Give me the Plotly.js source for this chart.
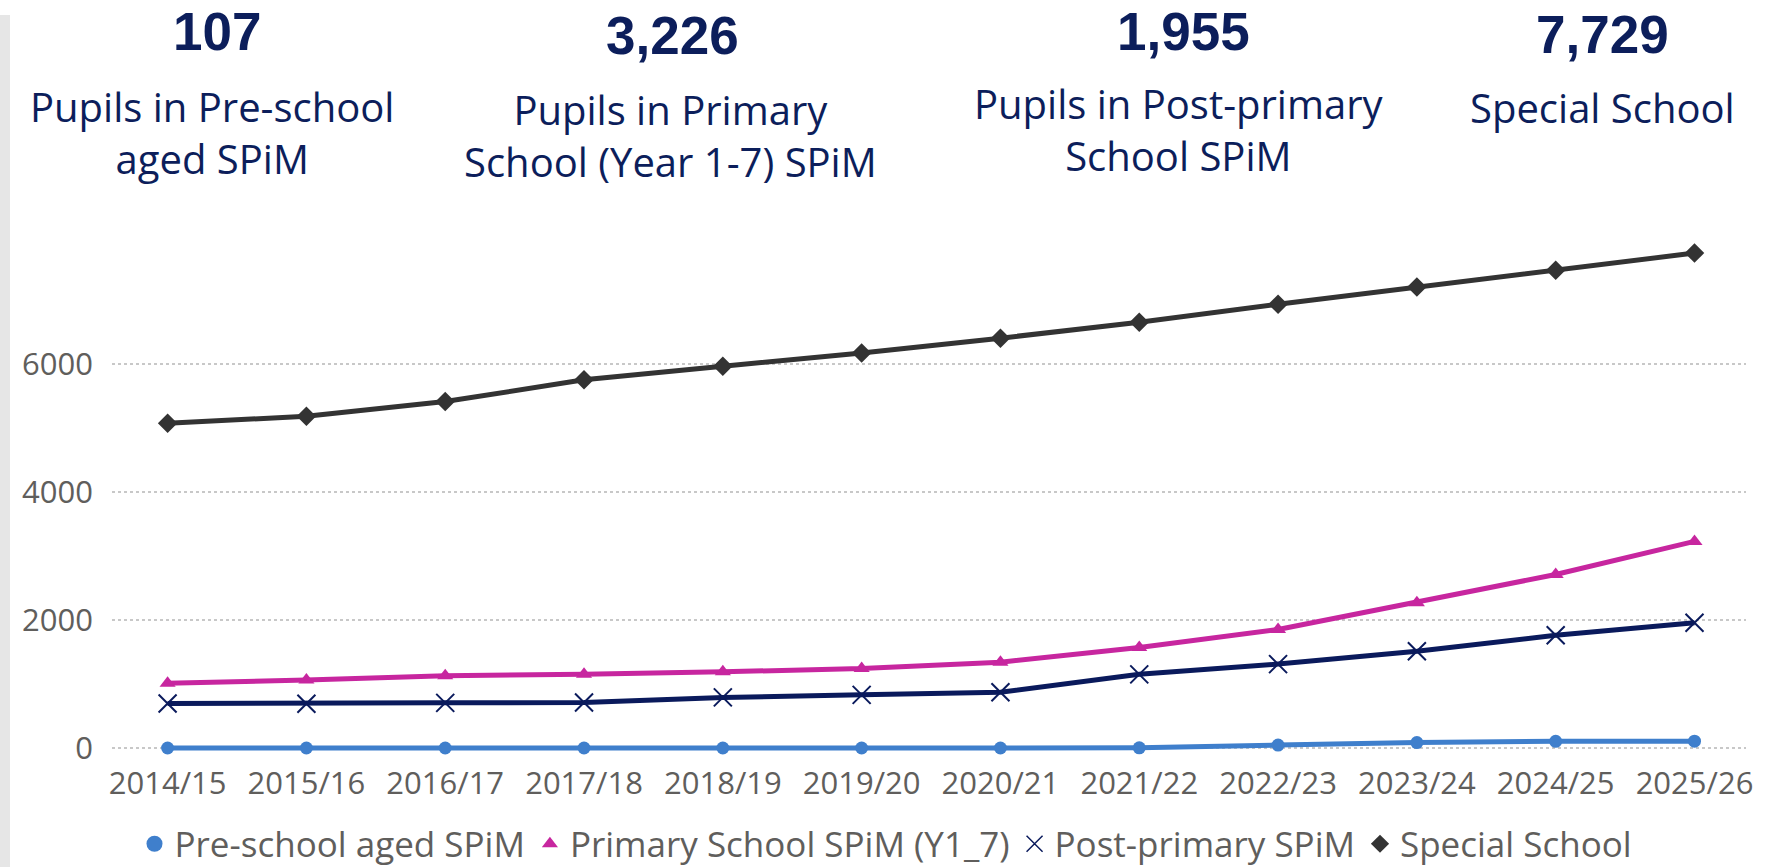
<!DOCTYPE html>
<html>
<head>
<meta charset="utf-8">
<script src="https://cdn.plot.ly/plotly-3.0.1.min.js"></script>
<style>
html,body{margin:0;padding:0;background:#ffffff;}
#chart{width:1788px;height:867px;}
</style>
</head>
<body>
<div id="chart"></div>
<script>
// ---------------- data ----------------
const years = ["2014/15","2015/16","2016/17","2017/18","2018/19","2019/20","2020/21","2021/22","2022/23","2023/24","2024/25","2025/26"];
const preSchool   = [0, 0, 0, 0, 0, 0, 0, 2, 45, 85, 105, 107];
const primary     = [1010, 1060, 1130, 1150, 1190, 1240, 1340, 1570, 1850, 2270, 2710, 3226];
const postPrimary = [694, 690, 705, 710, 790, 830, 870, 1150, 1310, 1510, 1760, 1955];
const special     = [5070, 5180, 5410, 5750, 5960, 6170, 6400, 6650, 6930, 7200, 7460, 7729];

const seriesNames = ["Pre-school aged SPiM","Primary School SPiM (Y1_7)","Post-primary SPiM","Special School"];
const kpiValues = ["107","3,226","1,955","7,729"];
const kpiLabels = ["Pupils in Pre-school<br>aged SPiM","Pupils in Primary<br>School (Year 1-7) SPiM","Pupils in Post-primary<br>School SPiM","Special School"];
const yTicks = [0, 2000, 4000, 6000];

// ---------------- layout geometry ----------------
const W = 1788, H = 867;
const M = {l:112, r:42, t:230, b:115, autoexpand:false};
const plotW = W - M.l - M.r, plotH = H - M.t - M.b;
const px2x = p => (p - M.l) / plotW;
const px2y = p => (H - M.b - p) / plotH;

const navy = "#0C1E5B";
const grey = "#605E5C";
const FONT = "'Segoe UI', 'Open Sans', 'Noto Sans', sans-serif";
const NUMFONT = "'Segoe UI', 'Liberation Sans', Arial, sans-serif";

const colors  = ["#3F7FCC", "#C7269F", "#0A1A5C", "#333333"];
const symbols = ["circle", "triangle-up", "x-thin", "diamond"];
const sizes   = [13, 14, 18, 15];
const values  = [preSchool, primary, postPrimary, special];

const traces = [];
for (let i = 0; i < values.length; i++) {
  traces.push({x: years, y: values[i], name: seriesNames[i], type: "scatter", mode: "lines+markers",
    showlegend: false, cliponaxis: false,
    line: {color: colors[i], width: 5},
    marker: {symbol: symbols[i], size: sizes[i], color: colors[i],
             line: {color: colors[i], width: symbols[i] === "x-thin" ? 2 : 0}}});
}
// legend entries (marker only, no data drawn)
for (let i = 0; i < values.length; i++) {
  traces.push({x: [null], y: [null], name: seriesNames[i], type: "scatter", mode: "markers",
    showlegend: true,
    marker: {symbol: symbols[i], size: i === 0 ? 16 : (i === 2 ? 16 : 14), color: colors[i],
             line: {color: colors[i], width: symbols[i] === "x-thin" ? 1.5 : 0}}});
}

// number boxes anchored at their top edge, subtitles at their middle
const numPos = [[216.6,0.5],[672,3.5],[1183,0],[1602,2.5]];
const subPos = [[212,132.5],[670,135],[1179,129.5],[1602,107]];
const annotations = [];
for (let i = 0; i < kpiValues.length; i++) {
  annotations.push({xref:"paper", yref:"paper", x:px2x(numPos[i][0]), y:px2y(numPos[i][1]),
    xanchor:"center", yanchor:"top", showarrow:false, text:"<b>"+kpiValues[i]+"</b>",
    font:{family:NUMFONT, size:53, color:navy}});
  annotations.push({xref:"paper", yref:"paper", x:px2x(subPos[i][0]), y:px2y(subPos[i][1]),
    xanchor:"center", yanchor:"middle", showarrow:false, text:kpiLabels[i], align:"center",
    font:{family:FONT, size:40, color:navy}});
}

const layout = {
  width: W, height: H,
  margin: M,
  paper_bgcolor: "#ffffff", plot_bgcolor: "#ffffff",
  font: {family: FONT, color: grey},
  showlegend: true,
  legend: {orientation: "h", x: px2x(886), xanchor: "center", y: px2y(844), yanchor: "middle",
           font: {family: FONT, size: 35, color: grey}, itemwidth: 30, tracegroupgap: 0,
           bgcolor: "rgba(0,0,0,0)"},
  xaxis: {type: "category", range: [-(167.6 - M.l) / 138.81, 11 + (W - M.r - 1694.5) / 138.81],
          showgrid: false, zeroline: false, showline: false, ticks: "", automargin: false,
          tickfont: {family: FONT, size: 31, color: grey}, ticklabelstandoff: 10, fixedrange: true},
  yaxis: {range: [-4 / 0.064035, (748 - M.t) / 0.064035], tickvals: yTicks, tickformat: "d",
          showgrid: true, gridcolor: "#C8C8C8", griddash: "dot", gridwidth: 1.5,
          zeroline: false, showline: false, ticks: "", automargin: false,
          tickfont: {family: FONT, size: 31, color: grey}, ticklabelstandoff: 18, fixedrange: true},
  shapes: [{type: "rect", xref: "paper", yref: "paper", x0: px2x(0), x1: px2x(10), y0: px2y(H), y1: px2y(15),
            fillcolor: "#E6E6E6", line: {width: 0}, layer: "below"}],
  annotations: annotations
};

Plotly.newPlot("chart", traces, layout, {displayModeBar: false, staticPlot: true});
</script>
</body>
</html>
